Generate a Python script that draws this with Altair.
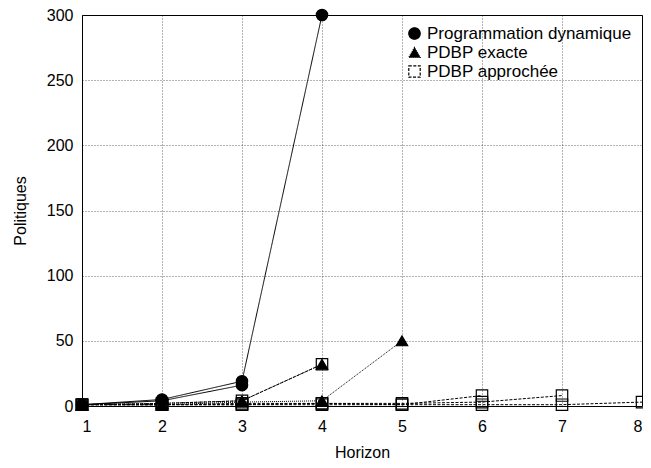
import altair as alt
import pandas as pd

# Series (several curves share a method style)
series_names = ["dp_a", "dp_b", "ex_a", "ap_a", "ex_b", "ap_b", "ap_c", "ap_d"]
series_method = ["Programmation dynamique", "Programmation dynamique",
                 "PDBP exacte", "PDBP approchée",
                 "PDBP exacte", "PDBP approchée", "PDBP approchée", "PDBP approchée"]
series_x = [
    [1, 2, 3, 4],
    [1, 2, 3],
    [1, 2, 3, 4],
    [1, 2, 3, 4],
    [1, 2, 3, 4, 5],
    [1, 2, 3, 4, 5, 6, 7, 8],
    [1, 2, 3, 4, 5, 6],
    [1, 2, 3, 4, 5, 6, 7],
]
series_y = [
    [1, 5, 19, 300],
    [1, 4, 16],
    [1, 2, 4, 32],
    [1, 2, 4, 32],
    [1, 1, 3, 4, 50],
    [1, 1, 1, 1, 1, 1, 1, 3],
    [1, 1, 1, 2, 1, 8],
    [1, 1, 2, 2, 2, 3, 8],
]
methods = ["Programmation dynamique", "PDBP exacte", "PDBP approchée"]
x_ticks = [1, 2, 3, 4, 5, 6, 7, 8]
y_ticks = [0, 50, 100, 150, 200, 250, 300]

rows = []
for name, m, xs, ys in zip(series_names, series_method, series_x, series_y):
    for i, (xv, yv) in enumerate(zip(xs, ys)):
        rows.append({"serie": name, "Méthode": m, "Horizon": xv,
                     "Politiques": yv, "ordre": i})
df = pd.DataFrame(rows)

font = "Liberation Sans"

x_enc = alt.X("Horizon:Q", scale=alt.Scale(domain=[1, 8], nice=False),
              axis=alt.Axis(values=x_ticks, title="Horizon", format="d"))
y_enc = alt.Y("Politiques:Q", scale=alt.Scale(domain=[0, 300], nice=False),
              axis=alt.Axis(values=y_ticks, title="Politiques"))

leg = alt.Legend(title=None, orient="top-right", offset=10, labelFontSize=17,
                 labelFont=font, symbolSize=130, symbolStrokeWidth=1.2,
                 symbolDash=[1, 0], rowPadding=1, labelLimit=400)

dash_scale = alt.Scale(domain=methods, range=[[1, 0], [1, 1], [3, 1.5]])
shape_scale = alt.Scale(domain=methods, range=["circle", "triangle-up", "square"])
fill_scale = alt.Scale(domain=methods, range=["black", "black", "transparent"])

lines = alt.Chart(df).mark_line(color="black", strokeWidth=1).encode(
    x=x_enc, y=y_enc,
    detail="serie:N",
    order="ordre:Q",
    strokeDash=alt.StrokeDash("Méthode:N", scale=dash_scale, legend=leg),
)

points = alt.Chart(df).mark_point(stroke="black", strokeWidth=1.2, opacity=1, size=130, filled=False).encode(
    x=x_enc, y=y_enc,
    shape=alt.Shape("Méthode:N", scale=shape_scale, legend=leg),
    fill=alt.Fill("Méthode:N", scale=fill_scale, legend=leg),
)

chart = alt.layer(lines, points).properties(
    width=560, height=391,
    autosize=alt.AutoSizeParams(type="none"),
    padding={"left": 74, "top": 7, "right": 1, "bottom": 60},
).configure_view(
    stroke="black", strokeWidth=1
).configure_axis(
    labelFont=font, titleFont=font, labelFontSize=16, titleFontSize=16,
    titleFontWeight="normal", labelColor="black", titleColor="black",
    domain=False, ticks=False, labelPadding=9,
    grid=True, gridColor="black", gridDash=[1, 2], gridOpacity=0.6, gridWidth=1,
).configure_axisY(
    titlePadding=18
).configure_axisX(
    titlePadding=10, labelPadding=12
)

chart.save("out.html", embed_options={"renderer": "svg", "actions": False})
